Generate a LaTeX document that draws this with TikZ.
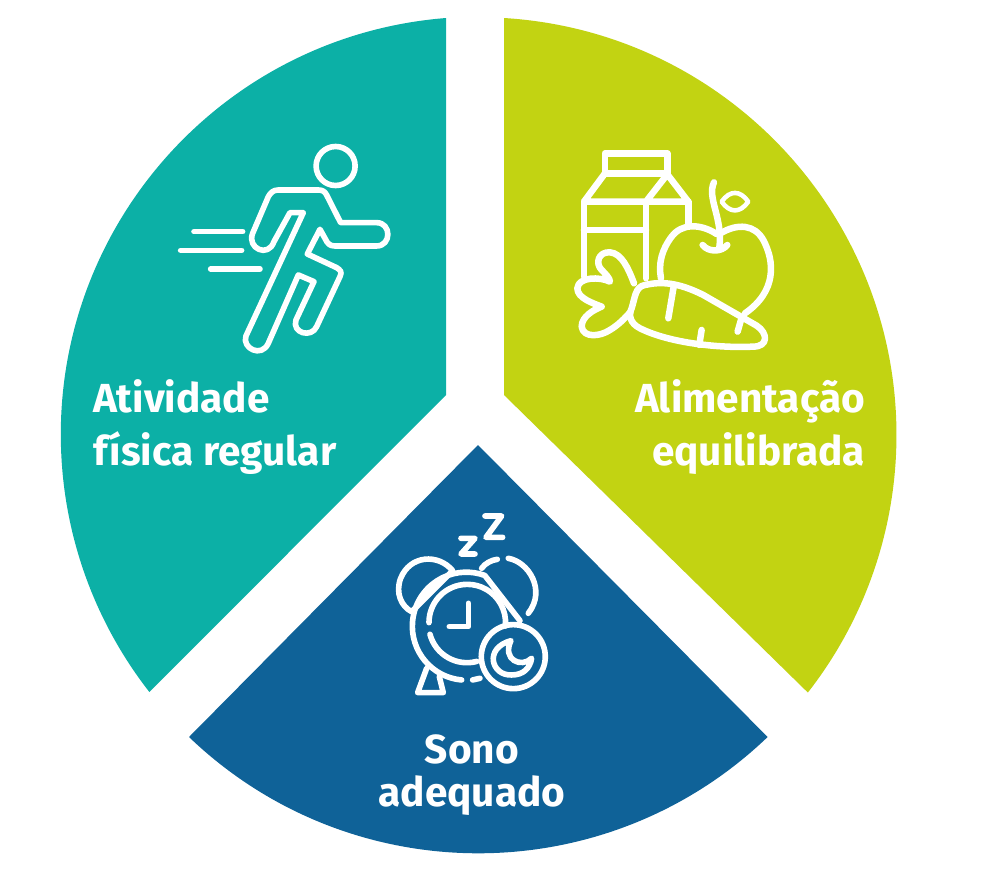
\documentclass[tikz,border=0pt]{standalone}
\usepackage{fontspec}
\setmainfont{Fira Sans}
\definecolor{tealpart}{HTML}{0CB0A6}
\definecolor{limepart}{HTML}{C2D312}
\definecolor{bluepart}{HTML}{0F6298}
\tikzset{
  part label/.style={text=white,font=\fontsize{11.55}{14.8}\selectfont\bfseries,inner sep=0,outer sep=0},
  icon/.style={draw=white,line width=1.6pt,line cap=round,line join=round},
  thick icon/.style={draw=white,line width=1.85pt,line cap=round,line join=round},
  thin icon/.style={draw=white,line width=1.3pt,line cap=round,line join=round},
  zoomed/.style={x=.03333mm,y=-.03333mm}
}
\begin{document}
\begin{tikzpicture}[x=.1mm,y=-.1mm]
  \useasboundingbox (0,0) rectangle (1000,870);

  % wedges
  \fill [tealpart] (446,18) arc[start angle=94.5,end angle=218,radius=4.18cm] -- (446,395) -- cycle;
  \fill [limepart] (504,18) arc[start angle=86.5,end angle=-38,radius=4.18cm] -- (504,395) -- cycle;
  \fill [bluepart] (189,737) arc[start angle=226.2,end angle=313.8,radius=4.18cm] -- (478,445) -- cycle;

  % runner
  \begin{scope}[shift={(170,130)},zoomed]
    \draw [icon] (497,108) circle [radius=.195cm];
    \draw [icon] (72,305) -- (218,305);
    \draw [icon] (32,361) -- (215,361);
    \draw [icon] (122,417) -- (270,417);
    \draw [icon] (360,248) -- (400,248) -- (228,618)
      .. controls (215,655) and (275,685) .. (295,640)
      -- (385,435) -- (432,455) -- (378,570)
      .. controls (365,610) and (425,625) .. (440,590)
      -- (510,440) .. controls (518,425) and (510,420) .. (500,413)
      -- (412,372) -- (450,298) -- (465,325)
      .. controls (473,342) and (480,348) .. (495,348)
      -- (620,348) .. controls (665,348) and (665,278) .. (620,278)
      -- (512,278) -- (470,195)
      .. controls (465,185) and (458,180) .. (445,180)
      -- (325,180) .. controls (310,180) and (302,188) .. (295,200)
      -- (248,310) .. controls (230,355) and (295,385) .. (312,335)
      -- cycle;
  \end{scope}

  % food
  \begin{scope}[shift={(560,135)},zoomed]
    \draw [thick icon] (135,55) -- (322,55) -- (322,115) -- (135,115) -- cycle;
    \draw [thick icon] (135,115) -- (72,200) -- (385,200) -- (322,118) -- (258,200);
    \draw [thick icon] (72,200) -- (72,425);
    \draw [thick icon] (385,200) -- (385,268);
    \draw [thick icon] (258,200) -- (258,430);
    \draw [thick icon] (72,285) -- (258,285);
    % apple
    \draw [thick icon] (470,297) .. controls (420,265) and (365,265) .. (335,305)
      .. controls (305,345) and (295,385) .. (303,430);
    \draw [thick icon] (478,297) .. controls (535,262) and (585,270) .. (610,315)
      .. controls (645,380) and (650,470) .. (555,535);
    \draw [thick icon] (428,330) .. controls (445,352) and (485,352) .. (502,330);
    \draw [thick icon] (462,142) .. controls (440,190) and (490,250) .. (478,340);
    \draw [thin icon] (485,200) .. controls (510,165) and (540,165) .. (565,200)
      .. controls (540,235) and (510,235) .. (485,200) -- cycle;
    % carrot
    \draw [thick icon] (255,450) .. controls (300,440) and (350,440) .. (430,480)
      -- (590,572)
      .. controls (625,595) and (625,635) .. (580,635)
      .. controls (480,640) and (330,625) .. (240,580)
      .. controls (210,565) and (205,540) .. (215,520)
      .. controls (225,490) and (225,455) .. (255,450) -- cycle;
    \draw [thick icon] (342,450) -- (325,550);
    \draw [thick icon] (425,585) -- (418,630);
    \draw [thick icon] (545,548) -- (533,590);
    \draw [thick icon] (222,445) .. controls (205,400) and (185,355) .. (150,352)
      .. controls (115,350) and (105,385) .. (125,405)
      .. controls (135,415) and (150,430) .. (150,440)
      .. controls (120,425) and (55,425) .. (52,460)
      .. controls (52,490) and (100,505) .. (125,515)
      .. controls (100,525) and (65,545) .. (65,575)
      .. controls (70,610) and (120,605) .. (150,585)
      .. controls (175,570) and (195,550) .. (212,530);
  \end{scope}

  % clock
  \begin{scope}[shift={(380,500)},zoomed]
    \draw [icon] (315,48) -- (365,48) -- (318,112) -- (368,112);
    \draw [icon] (243,115) -- (285,115) -- (243,162) -- (285,162);
    \draw [icon] (95,335) -- (218,212)
      .. controls (175,160) and (90,165) .. (62,235)
      .. controls (45,280) and (65,320) .. (95,335) -- cycle;
    \draw [icon] (305,205) .. controls (315,190) and (335,180) .. (352,178);
    \draw [icon] (385,175) .. controls (445,185) and (500,270) .. (445,340);
    % rings
    \draw [icon] (245,540) arc[start angle=265,end angle=70,radius=.54cm]
      -- (420,362);
    \draw [icon] (278,540) -- (300,535);
    \draw [icon] (147,368) arc[start angle=180,end angle=-5,radius=.383cm];
    \draw [icon] (150,403) arc[start angle=195,end angle=285,radius=.383cm];
    \draw [icon] (265,310) -- (265,380) -- (208,380);
    % moon
    \draw [icon] (400,470) circle [radius=.32cm];
    \draw [icon] (393,422) .. controls (310,445) and (335,528) .. (395,525)
      .. controls (430,525) and (450,505) .. (455,475)
      .. controls (425,505) and (365,480) .. (393,422) -- cycle;
    % feet
    \draw [icon] (140,505) -- (113,578) -- (190,578) -- (178,530);
  \end{scope}

  % labels
  \node [part label,anchor=base west,align=left] (activity) at (93,465) {Atividade\\física regular};
  \node [part label,anchor=base east,align=right] (food) at (865,465) {Alimentação\\equilibrada};
  \node [part label,anchor=base,align=center,font=\fontsize{11.55}{12.2}\selectfont\bfseries] (sleep) at (472,806) {Sono\\adequado};
\end{tikzpicture}
\end{document}
